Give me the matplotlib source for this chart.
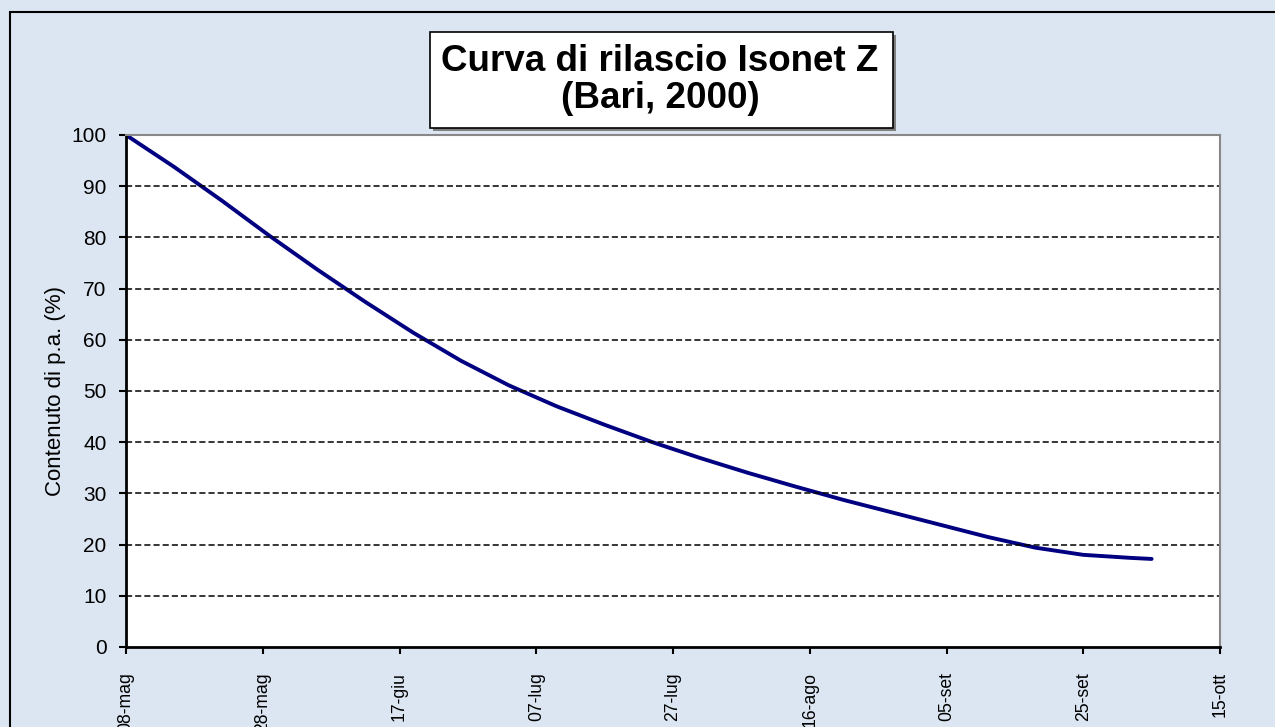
import numpy as np
import pandas as pd
import matplotlib.pyplot as plt
from matplotlib.patches import Rectangle

plt.rcParams['font.family'] = ['Liberation Sans', 'DejaVu Sans']

# dati (rilascio Isonet Z, Bari 2000)
giorni = [0, 7, 14, 21, 28, 35, 42, 49, 56, 63, 70, 77, 84, 91, 98, 105,
          112, 119, 126, 133, 140, 147, 150]
contenuto = [100, 93.8, 87.2, 80.3, 73.7, 67.4, 61.4, 55.9, 51.1, 47.0, 43.4,
             40.0, 36.9, 34.0, 31.3, 28.7, 26.3, 23.9, 21.5, 19.4, 18.0, 17.4, 17.2]
inizio = pd.Timestamp('2000-05-08')
date = [inizio + pd.Timedelta(days=g) for g in giorni]

tick_date = pd.date_range('2000-05-08', '2000-10-15', freq='20D')
mesi = ['gen', 'feb', 'mar', 'apr', 'mag', 'giu', 'lug', 'ago', 'set', 'ott', 'nov', 'dic']
tick_labels = ['%02d-%s' % (d.day, mesi[d.month - 1]) for d in tick_date]

sfondo = '#DCE6F2'
fig = plt.figure(figsize=(12.75, 7.27), dpi=100, facecolor=sfondo)

# bordo esterno del grafico
fig.patches.append(Rectangle((10 / 1275, -0.1), 1.2, 1 - 12 / 727 + 0.1,
                             transform=fig.transFigure, fill=False,
                             edgecolor='black', linewidth=1.5))

ax = fig.add_axes([126 / 1275, 1 - 647 / 727, (1220 - 126) / 1275, (647 - 135) / 727])
ax.set_facecolor('white')
ax.plot(date, contenuto, color='#000080', linewidth=2.8,
        solid_capstyle='round', solid_joinstyle='round')

ax.set_ylim(0, 100)
ax.set_yticks(range(0, 101, 10))
ax.set_xlim(tick_date[0], tick_date[-1])
ax.set_xticks(tick_date)
ax.set_xticklabels(tick_labels, rotation=90, fontsize=12.7, va='top')
ax.tick_params(axis='x', length=5, width=1.5, pad=13, direction='out')
ax.tick_params(axis='y', length=5, width=1.5, labelsize=15, pad=9)
for v in range(10, 100, 10):
    ax.axhline(v, color='black', linestyle=(0, (4, 2)), linewidth=1.1)

ax.spines['left'].set_linewidth(2)
ax.spines['bottom'].set_linewidth(2)
ax.spines['top'].set_color('#888888')
ax.spines['right'].set_color('#888888')
ax.spines['top'].set_linewidth(1.5)
ax.spines['right'].set_linewidth(1.5)

ax.set_ylabel('Contenuto di p.a. (%)', fontsize=16, labelpad=4)

# titolo nel riquadro bianco con ombra
fig.patches.append(Rectangle((433 / 1275, 1 - 131 / 727), 463 / 1275, 96 / 727,
                             transform=fig.transFigure, facecolor='#808080',
                             edgecolor='none'))
fig.patches.append(Rectangle((430 / 1275, 1 - 128 / 727), 463 / 1275, 96 / 727,
                             transform=fig.transFigure, facecolor='white',
                             edgecolor='black', linewidth=1.2))
fig.text(660 / 1275, 1 - 80 / 727, 'Curva di rilascio Isonet Z\n(Bari, 2000)',
         ha='center', va='center', fontsize=26.5, fontweight='bold', linespacing=1.05)

fig.savefig('out.png', dpi=100, facecolor=sfondo)
